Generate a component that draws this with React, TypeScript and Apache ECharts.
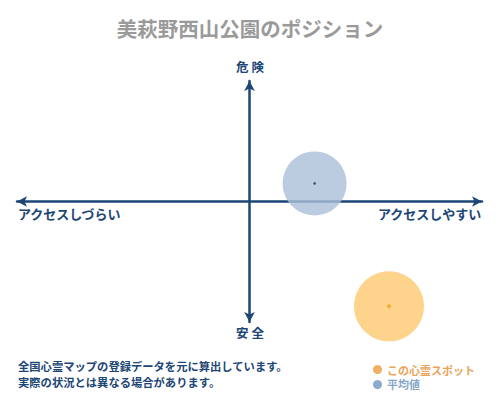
import React, { useEffect, useRef } from 'react';
import * as echarts from 'echarts';

const seriesNames = ['この心霊スポット', '平均値'];
const spotPoint = [60, -87];
const averagePoint = [28, 15];
const axisLabels = ['危 険', '安 全', 'アクセスしづらい', 'アクセスしやすい'];
const noteLines = [
  '全国心霊マップの登録データを元に算出しています。',
  '実際の状況とは異なる場合があります。',
];

const navy = '#1c4675';
const font = '"Noto Sans CJK JP", sans-serif';

const App: React.FC = () => {
  const chartref = useRef<HTMLDivElement>(null);
  useEffect(() => {
    const myChart = echarts.init(chartref.current as HTMLDivElement, undefined, {
      renderer: 'svg',
    });
    const hiddenAxis = {
      type: 'value',
      min: -100,
      max: 100,
      axisLabel: { show: false },
      axisTick: { show: false },
      splitLine: { show: false },
      axisLine: {
        onZero: true,
        symbol: ['arrow', 'arrow'],
        symbolSize: [8, 10],
        lineStyle: { color: navy, width: 2.5 },
      },
    } as const;

    const option: echarts.EChartsOption = {
      animation: false,
      textStyle: { fontFamily: font },
      title: {
        text: '美萩野西山公園のポジション',
        left: 'center',
        top: 13,
        textStyle: { color: '#9a9a9a', fontSize: 20.5, fontWeight: 'bold', fontFamily: font },
      },
      grid: { left: 17, right: 18, top: 81, bottom: 78 },
      xAxis: hiddenAxis,
      yAxis: hiddenAxis,
      legend: {
        orient: 'vertical',
        right: 20,
        top: 359,
        icon: 'circle',
        itemWidth: 9,
        itemHeight: 9,
        itemGap: 4,
        itemStyle: { borderWidth: 0 },
        textStyle: { fontSize: 11, fontWeight: 'bold', fontFamily: font },
        data: [
          { name: seriesNames[0], itemStyle: { color: '#ef9a3c' }, textStyle: { color: '#e9a45a' } },
          { name: seriesNames[1], itemStyle: { color: '#6f97c0' }, textStyle: { color: '#86a6c7' } },
        ],
      },
      graphic: [
        { type: 'text', left: 'center', top: 60, style: { text: axisLabels[0], fill: navy, font: `bold 12.5px ${font}` } },
        { type: 'text', left: 'center', top: 326, style: { text: axisLabels[1], fill: navy, font: `bold 12.5px ${font}` } },
        { type: 'text', left: 18, top: 207, style: { text: axisLabels[2], fill: navy, font: `bold 13px ${font}` } },
        { type: 'text', right: 18, top: 207, style: { text: axisLabels[3], fill: navy, font: `bold 13px ${font}` } },
        { type: 'text', left: 18, top: 360, style: { text: noteLines[0], fill: navy, font: `bold 11.3px ${font}` } },
        { type: 'text', left: 18, top: 376, style: { text: noteLines[1], fill: navy, font: `bold 11.3px ${font}` } },
      ],
      series: [
        {
          name: seriesNames[0],
          type: 'scatter',
          symbolSize: 70,
          itemStyle: { color: '#fec96f' },
          data: [spotPoint],
          z: 2,
        },
        {
          name: seriesNames[1],
          type: 'scatter',
          symbolSize: 64,
          itemStyle: { color: '#aabfd8' },
          data: [averagePoint],
          z: 2,
        },
        {
          type: 'scatter',
          symbol: 'diamond',
          symbolSize: 5,
          itemStyle: { color: '#f0a020' },
          data: [spotPoint],
          z: 3,
        },
        {
          type: 'scatter',
          symbolSize: 2.5,
          itemStyle: { color: '#1a2a3a' },
          data: [averagePoint],
          z: 3,
        },
      ],
    };
    myChart.setOption(option);

    return () => {
      myChart.dispose();
    };
  }, []);

  return <div ref={chartref} style={{ height: 400, width: 500, margin: -8 }} />;
};
export default App;
